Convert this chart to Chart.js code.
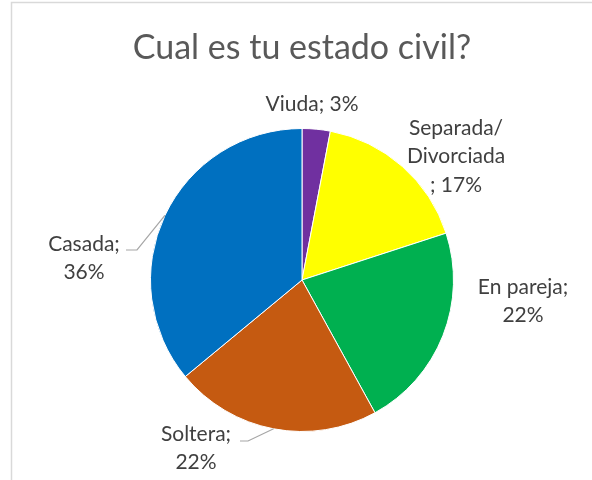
<!DOCTYPE html>
<html>
<head>
<meta charset="utf-8">
<script src="https://cdn.jsdelivr.net/npm/chart.js@4"></script>
<style>
html,body{margin:0;padding:0;background:#fff;}
#wrap{width:592px;height:480px;position:relative;}
</style>
</head>
<body>
<div id="wrap"><canvas id="civilChart" width="592" height="480"></canvas></div>
<script>
const categories = ["Viuda", "Separada/ Divorciada", "En pareja", "Soltera", "Casada"];
const values = [3, 17, 22, 22, 36];
const sliceColors = ["#7030A0", "#FFFF00", "#00B050", "#C55A11", "#0070C0"];

// where each label block sits (text lines, centre x, first line middle y, leader line)
const labelLayout = [
{lines:["Viuda; 3%"], x:312, y:104},
{lines:["Separada/","Divorciada","; 17%"], x:456, y:128},
{lines:["En pareja;","22%"], x:523, y:287},
{lines:["Soltera;","22%"], x:196, y:434, leader:{x:240, y:441, elbow:248}},
{lines:["Casada;","36%"], x:84, y:244, leader:{x:126, y:250, elbow:137}}
];

const labelsPlugin = {
id:"pieLabels",
afterDraw(chart){
const ctx = chart.ctx;
ctx.save();

// frame
ctx.strokeStyle = "#d9d9d9";
ctx.lineWidth = 1.5;
ctx.beginPath();
ctx.moveTo(11.5, 480);
ctx.lineTo(11.5, 2.5);
ctx.lineTo(592, 2.5);
ctx.stroke();

// title
ctx.fillStyle = "#595959";
ctx.font = "34px Lato";
ctx.textAlign = "center";
ctx.textBaseline = "middle";
ctx.fillText("Cual es tu estado civil?", 302, 48);

const arcs = chart.getDatasetMeta(0).data;
ctx.font = "21px Lato";
ctx.fillStyle = "#404040";
labelLayout.forEach(function(l, i){
l.lines.forEach(function(t, k){
ctx.fillText(t, l.x, l.y + k*28.5);
});
if(l.leader){
const a = arcs[i];
const mid = (a.startAngle + a.endAngle)/2;
const px = a.x + Math.cos(mid)*a.outerRadius;
const py = a.y + Math.sin(mid)*a.outerRadius;
ctx.strokeStyle = "#a6a6a6";
ctx.lineWidth = 1.2;
ctx.beginPath();
ctx.moveTo(l.leader.x, l.leader.y);
ctx.lineTo(l.leader.elbow, l.leader.y);
ctx.lineTo(px, py);
ctx.stroke();
}
});
ctx.restore();
}
};

new Chart(document.getElementById("civilChart"), {
type:"pie",
data:{
labels:categories,
datasets:[{
data:values,
backgroundColor:sliceColors,
borderColor:"#ffffff",
borderWidth:1
}]
},
options:{
responsive:false,
animation:false,
layout:{padding:{top:128, bottom:48, left:150, right:138}},
plugins:{
legend:{display:false},
tooltip:{enabled:false}
}
},
plugins:[labelsPlugin]
});
</script>
</body>
</html>
